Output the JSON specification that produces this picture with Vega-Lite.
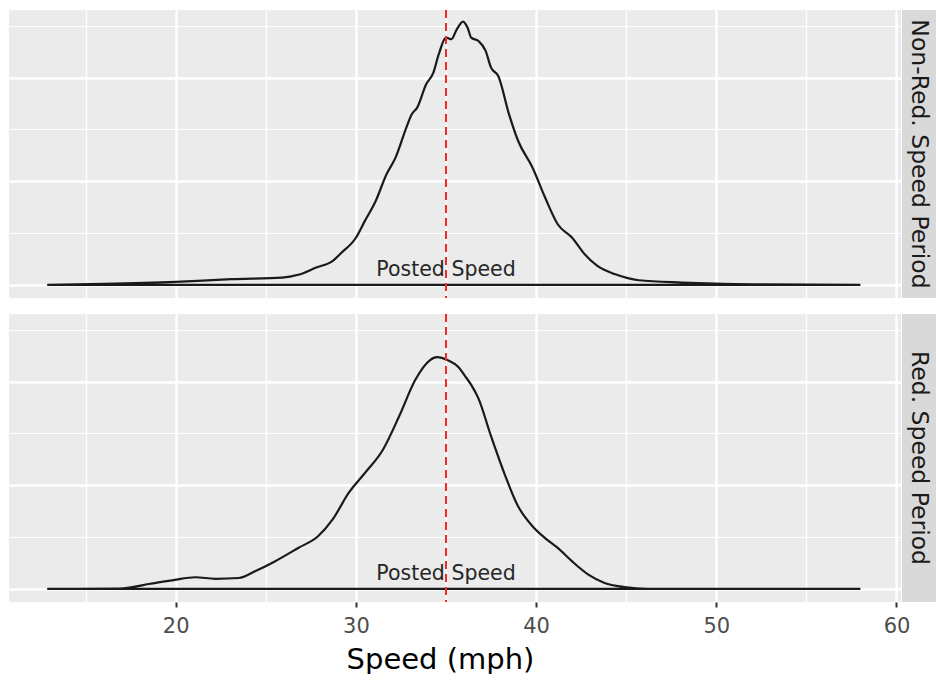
{
  "$schema": "https://vega.github.io/schema/vega-lite/v6.json",
  "autosize": {"type": "pad"},
  "padding": {"left": 9, "top": 9, "right": 0, "bottom": 0},
  "background": "white",
  "config": {
    "font": "DejaVu Sans",
    "view": {"stroke": null},
    "concat": {"spacing": 1}
  },
  "datasets": {
    "density": [
      {"period": "Non-Red. Speed Period", "speed": 12.87, "density": 0},
      {"period": "Non-Red. Speed Period", "speed": 16.0, "density": 0.0004},
      {"period": "Non-Red. Speed Period", "speed": 20.0, "density": 0.0012},
      {"period": "Non-Red. Speed Period", "speed": 23.1, "density": 0.0022},
      {"period": "Non-Red. Speed Period", "speed": 25.9, "density": 0.0028},
      {"period": "Non-Red. Speed Period", "speed": 26.8, "density": 0.0039},
      {"period": "Non-Red. Speed Period", "speed": 27.8, "density": 0.0067},
      {"period": "Non-Red. Speed Period", "speed": 28.7, "density": 0.0092},
      {"period": "Non-Red. Speed Period", "speed": 29.2, "density": 0.0124},
      {"period": "Non-Red. Speed Period", "speed": 30.0, "density": 0.0182},
      {"period": "Non-Red. Speed Period", "speed": 30.5, "density": 0.0247},
      {"period": "Non-Red. Speed Period", "speed": 31.1, "density": 0.0324},
      {"period": "Non-Red. Speed Period", "speed": 31.7, "density": 0.0427},
      {"period": "Non-Red. Speed Period", "speed": 32.2, "density": 0.0491},
      {"period": "Non-Red. Speed Period", "speed": 32.8, "density": 0.0607},
      {"period": "Non-Red. Speed Period", "speed": 33.1, "density": 0.0658},
      {"period": "Non-Red. Speed Period", "speed": 33.4, "density": 0.0684},
      {"period": "Non-Red. Speed Period", "speed": 33.9, "density": 0.0774},
      {"period": "Non-Red. Speed Period", "speed": 34.3, "density": 0.0819},
      {"period": "Non-Red. Speed Period", "speed": 34.6, "density": 0.089},
      {"period": "Non-Red. Speed Period", "speed": 35.0, "density": 0.0954},
      {"period": "Non-Red. Speed Period", "speed": 35.3, "density": 0.0948},
      {"period": "Non-Red. Speed Period", "speed": 35.6, "density": 0.0986},
      {"period": "Non-Red. Speed Period", "speed": 35.95, "density": 0.1016},
      {"period": "Non-Red. Speed Period", "speed": 36.2, "density": 0.0992},
      {"period": "Non-Red. Speed Period", "speed": 36.4, "density": 0.0954},
      {"period": "Non-Red. Speed Period", "speed": 36.8, "density": 0.0941},
      {"period": "Non-Red. Speed Period", "speed": 37.2, "density": 0.0903},
      {"period": "Non-Red. Speed Period", "speed": 37.5, "density": 0.0838},
      {"period": "Non-Red. Speed Period", "speed": 37.9, "density": 0.0806},
      {"period": "Non-Red. Speed Period", "speed": 38.5, "density": 0.0658},
      {"period": "Non-Red. Speed Period", "speed": 39.0, "density": 0.0556},
      {"period": "Non-Red. Speed Period", "speed": 39.8, "density": 0.0453},
      {"period": "Non-Red. Speed Period", "speed": 40.5, "density": 0.0337},
      {"period": "Non-Red. Speed Period", "speed": 41.2, "density": 0.0234},
      {"period": "Non-Red. Speed Period", "speed": 42.0, "density": 0.0182},
      {"period": "Non-Red. Speed Period", "speed": 42.7, "density": 0.0118},
      {"period": "Non-Red. Speed Period", "speed": 43.4, "density": 0.0073},
      {"period": "Non-Red. Speed Period", "speed": 44.4, "density": 0.0041},
      {"period": "Non-Red. Speed Period", "speed": 45.7, "density": 0.0018},
      {"period": "Non-Red. Speed Period", "speed": 48.1, "density": 0.0009},
      {"period": "Non-Red. Speed Period", "speed": 49.9, "density": 0.0005},
      {"period": "Non-Red. Speed Period", "speed": 52.7, "density": 0.0002},
      {"period": "Non-Red. Speed Period", "speed": 58.0, "density": 0},
      {"period": "Red. Speed Period", "speed": 12.87, "density": 0},
      {"period": "Red. Speed Period", "speed": 16.7, "density": 0.0001},
      {"period": "Red. Speed Period", "speed": 17.6, "density": 0.0007},
      {"period": "Red. Speed Period", "speed": 18.5, "density": 0.0019},
      {"period": "Red. Speed Period", "speed": 19.8, "density": 0.0033},
      {"period": "Red. Speed Period", "speed": 21.1, "density": 0.0045},
      {"period": "Red. Speed Period", "speed": 22.2, "density": 0.0039},
      {"period": "Red. Speed Period", "speed": 23.5, "density": 0.0042},
      {"period": "Red. Speed Period", "speed": 24.4, "density": 0.0068},
      {"period": "Red. Speed Period", "speed": 25.5, "density": 0.0106},
      {"period": "Red. Speed Period", "speed": 26.8, "density": 0.0158},
      {"period": "Red. Speed Period", "speed": 27.9, "density": 0.0203},
      {"period": "Red. Speed Period", "speed": 28.7, "density": 0.0267},
      {"period": "Red. Speed Period", "speed": 29.6, "density": 0.037},
      {"period": "Red. Speed Period", "speed": 30.5, "density": 0.0447},
      {"period": "Red. Speed Period", "speed": 31.5, "density": 0.0537},
      {"period": "Red. Speed Period", "speed": 32.4, "density": 0.0666},
      {"period": "Red. Speed Period", "speed": 33.3, "density": 0.0807},
      {"period": "Red. Speed Period", "speed": 34.1, "density": 0.0882},
      {"period": "Red. Speed Period", "speed": 34.5, "density": 0.0894},
      {"period": "Red. Speed Period", "speed": 35.1, "density": 0.0882},
      {"period": "Red. Speed Period", "speed": 35.7, "density": 0.0855},
      {"period": "Red. Speed Period", "speed": 36.05, "density": 0.0822},
      {"period": "Red. Speed Period", "speed": 36.4, "density": 0.0787},
      {"period": "Red. Speed Period", "speed": 36.8, "density": 0.0735},
      {"period": "Red. Speed Period", "speed": 37.5, "density": 0.0589},
      {"period": "Red. Speed Period", "speed": 38.3, "density": 0.0434},
      {"period": "Red. Speed Period", "speed": 39.0, "density": 0.0319},
      {"period": "Red. Speed Period", "speed": 39.8, "density": 0.0242},
      {"period": "Red. Speed Period", "speed": 40.5, "density": 0.0196},
      {"period": "Red. Speed Period", "speed": 41.2, "density": 0.0158},
      {"period": "Red. Speed Period", "speed": 42.0, "density": 0.0106},
      {"period": "Red. Speed Period", "speed": 42.9, "density": 0.0055},
      {"period": "Red. Speed Period", "speed": 43.8, "density": 0.0023},
      {"period": "Red. Speed Period", "speed": 44.9, "density": 0.0007},
      {"period": "Red. Speed Period", "speed": 46.2, "density": 0},
      {"period": "Red. Speed Period", "speed": 58.0, "density": 0}
    ],
    "strips": [
      {"period": "Non-Red. Speed Period"},
      {"period": "Red. Speed Period"}
    ],
    "posted": [
      {"speed": 35, "label": "Posted Speed"}
    ]
  },
  "spacing": 14,
  "vconcat": [
    {
      "bounds": "flush",
      "spacing": 1,
      "hconcat": [
        {
          "width": 892,
          "height": 288,
          "view": {"fill": "#ebebeb", "stroke": null},
          "layer": [
            {
              "data": {"name": "density"},
              "transform": [{"filter": "datum.period === 'Non-Red. Speed Period'"}],
              "mark": {"type": "area", "fill": null, "fillOpacity": 0, "stroke": "#1a1a1a", "strokeWidth": 2.2, "interpolate": "monotone"},
              "encoding": {
                "x": {"field": "speed", "type": "quantitative",
                  "scale": {"domain": [10.75, 60.25], "nice": false, "zero": false},
                  "axis": {"values": [15, 20, 25, 30, 35, 40, 45, 50, 55, 60], "grid": true, "gridColor": "white",
                    "gridWidth": {"condition": {"test": "datum.value % 10 !== 0", "value": 1.2}, "value": 2.4},
                    "domain": false, "ticks": false, "labels": false, "title": null}},
                "y": {"field": "density", "type": "quantitative",
                  "scale": {"domain": [-0.00505, 0.10605], "nice": false, "zero": false},
                  "axis": {"values": [0, 0.02, 0.04, 0.06, 0.08, 0.1], "grid": true, "gridColor": "white",
                    "gridWidth": {"condition": {"test": "round(datum.value * 100) % 4 !== 0", "value": 1.2}, "value": 2.4},
                    "domain": false, "ticks": false, "labels": false, "title": null}},
                "y2": {"datum": 0}
              }
            },
            {
              "data": {"name": "posted"},
              "mark": {"type": "text", "fontSize": 20.5, "color": "#262626", "baseline": "alphabetic", "dy": -9},
              "encoding": {
                "x": {"field": "speed", "type": "quantitative"},
                "y": {"datum": 0},
                "text": {"field": "label"}
              }
            },
            {
              "data": {"name": "posted"},
              "mark": {"type": "rule", "color": "#ee2b2b", "strokeWidth": 2, "strokeDash": [8, 5]},
              "encoding": {
                "x": {"field": "speed", "type": "quantitative"}
              }
            }
          ]
        },
        {
          "width": 34,
          "height": 288,
          "view": {"fill": "#d9d9d9", "stroke": null},
          "data": {"name": "strips"},
          "transform": [{"filter": "datum.period === 'Non-Red. Speed Period'"}],
          "mark": {"type": "text", "angle": 90, "fontSize": 23.5, "color": "#1a1a1a", "baseline": "middle", "align": "center"},
          "encoding": {"text": {"field": "period"}}
        }
      ]
    },
    {
      "bounds": "flush",
      "spacing": 1,
      "hconcat": [
        {
          "width": 892,
          "height": 288,
          "view": {"fill": "#ebebeb", "stroke": null},
          "layer": [
            {
              "data": {"name": "density"},
              "transform": [{"filter": "datum.period === 'Red. Speed Period'"}],
              "mark": {"type": "area", "fill": null, "fillOpacity": 0, "stroke": "#1a1a1a", "strokeWidth": 2.2, "interpolate": "monotone"},
              "encoding": {
                "x": {"field": "speed", "type": "quantitative",
                  "scale": {"domain": [10.75, 60.25], "nice": false, "zero": false},
                  "axis": {"values": [15, 20, 25, 30, 35, 40, 45, 50, 55, 60], "grid": true, "gridColor": "white",
                    "gridWidth": {"condition": {"test": "datum.value % 10 !== 0", "value": 1.2}, "value": 2.4},
                    "domain": false, "ticks": true, "tickColor": "#333333", "tickSize": 5, "tickWidth": 2,
                    "tickOpacity": {"condition": {"test": "datum.value % 10 !== 0", "value": 0}, "value": 1},
                    "labelExpr": "datum.value % 10 === 0 ? datum.label : ''",
                    "labelFontSize": 21, "labelColor": "#4d4d4d", "labelPadding": 8,
                    "title": "Speed (mph)", "titleFontSize": 29, "titleFontWeight": "normal", "titleColor": "#000000", "titlePadding": 9, "titleX": 431}},
                "y": {"field": "density", "type": "quantitative",
                  "scale": {"domain": [-0.00505, 0.10605], "nice": false, "zero": false},
                  "axis": {"values": [0, 0.02, 0.04, 0.06, 0.08, 0.1], "grid": true, "gridColor": "white",
                    "gridWidth": {"condition": {"test": "round(datum.value * 100) % 4 !== 0", "value": 1.2}, "value": 2.4},
                    "domain": false, "ticks": false, "labels": false, "title": null}},
                "y2": {"datum": 0}
              }
            },
            {
              "data": {"name": "posted"},
              "mark": {"type": "text", "fontSize": 20.5, "color": "#262626", "baseline": "alphabetic", "dy": -9},
              "encoding": {
                "x": {"field": "speed", "type": "quantitative"},
                "y": {"datum": 0},
                "text": {"field": "label"}
              }
            },
            {
              "data": {"name": "posted"},
              "mark": {"type": "rule", "color": "#ee2b2b", "strokeWidth": 2, "strokeDash": [8, 5]},
              "encoding": {
                "x": {"field": "speed", "type": "quantitative"}
              }
            }
          ]
        },
        {
          "width": 34,
          "height": 288,
          "view": {"fill": "#d9d9d9", "stroke": null},
          "data": {"name": "strips"},
          "transform": [{"filter": "datum.period === 'Red. Speed Period'"}],
          "mark": {"type": "text", "angle": 90, "fontSize": 23.5, "color": "#1a1a1a", "baseline": "middle", "align": "center"},
          "encoding": {"text": {"field": "period"}}
        }
      ]
    }
  ]
}
